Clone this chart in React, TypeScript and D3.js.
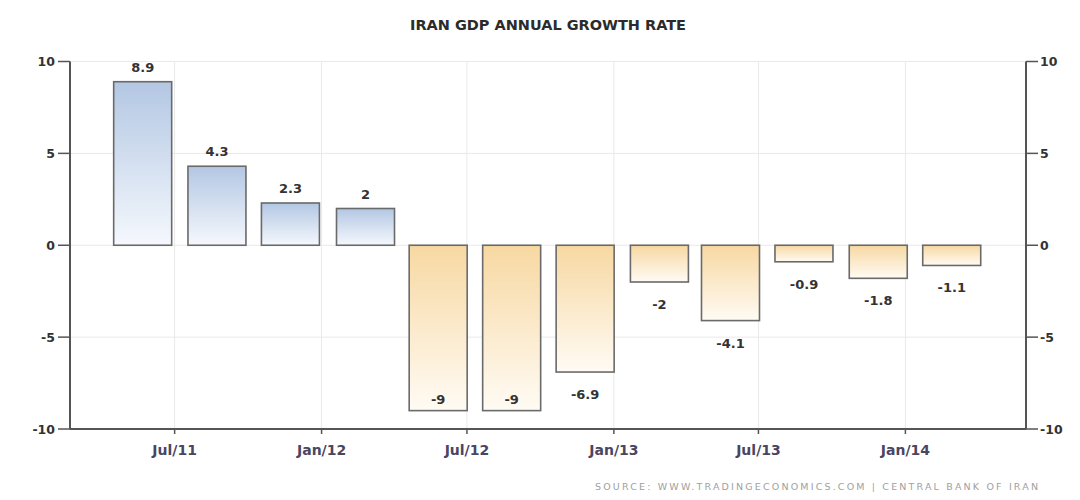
import React from "react";
import * as d3 from "d3";

const quarters: string[] = [
  "2011-05-22", "2011-08-23", "2011-11-23", "2012-02-25",
  "2012-05-26", "2012-08-26", "2012-11-26", "2013-02-27",
  "2013-05-27", "2013-08-27", "2013-11-28", "2014-02-28",
];
const growth: number[] = [8.9, 4.3, 2.3, 2, -9, -9, -6.9, -2, -4.1, -0.9, -1.8, -1.1];
const yTicks: number[] = [-10, -5, 0, 5, 10];
const xTickDates: string[] = ["2011-07-01", "2012-01-01", "2012-07-01", "2013-01-01", "2013-07-01", "2014-01-01"];
const xTickLabels: string[] = ["Jul/11", "Jan/12", "Jul/12", "Jan/13", "Jul/13", "Jan/14"];
const domainDates: string[] = ["2011-02-20", "2014-06-01"];

const W = 1080, H = 500;
const left = 70, right = 1026, top = 61.5, bottom = 429;
const barW = 58;
const font = "'DejaVu Sans', Verdana, sans-serif";

export default function App() {
  const parse = d3.utcParse("%Y-%m-%d");
  const x = d3.scaleUtc().domain(domainDates.map((d) => parse(d)!)).range([left, right]);
  const y = d3.scaleLinear().domain([-10, 10]).range([bottom, top]);
  const y0 = y(0);

  return (
    <svg width={W} height={H} style={{ position: "absolute", left: 0, top: 0, background: "#fff" }}>
      <defs>
        <linearGradient id="gPos" x1="0" y1="0" x2="0" y2="1">
          <stop offset="0%" stopColor="#b3c7e3" />
          <stop offset="100%" stopColor="#f5f8fd" />
        </linearGradient>
        <linearGradient id="gNeg" x1="0" y1="0" x2="0" y2="1">
          <stop offset="0%" stopColor="#f7d8a2" />
          <stop offset="100%" stopColor="#fffbf4" />
        </linearGradient>
      </defs>
      <rect x={0} y={0} width={W} height={H} fill="#fff" />
      <text x={548} y={30} textAnchor="middle" fontFamily={font} fontWeight="bold" fontSize={13.5}
        fill="#2b2b2b" textLength={276} lengthAdjust="spacingAndGlyphs">IRAN GDP ANNUAL GROWTH RATE</text>

      {/* grid */}
      {yTicks.filter((t) => t !== -10).map((t) => (
        <line key={"gy" + t} x1={left} x2={right} y1={y(t)} y2={y(t)} stroke="#e9e9e9" strokeWidth={1} />
      ))}
      {xTickDates.map((d) => (
        <line key={"gx" + d} x1={x(parse(d)!)} x2={x(parse(d)!)} y1={top} y2={bottom} stroke="#e9e9e9" strokeWidth={1} />
      ))}

      {/* bars */}
      {growth.map((v, i) => {
        const cx = x(parse(quarters[i])!);
        const y1 = Math.min(y(v), y0), y2 = Math.max(y(v), y0);
        return (
          <rect key={"b" + i} x={cx - barW / 2} y={y1} width={barW} height={y2 - y1}
            fill={v >= 0 ? "url(#gPos)" : "url(#gNeg)"} stroke="#6a6a6a" strokeWidth={1.6} />
        );
      })}

      {/* value labels */}
      {growth.map((v, i) => {
        const cx = x(parse(quarters[i])!);
        let ly: number;
        if (v >= 0) ly = y(v) - 10;
        else {
          ly = y(v) + 27;
          if (ly > bottom - 5) ly = y(v) - 7;
        }
        return (
          <text key={"l" + i} x={cx} y={ly} textAnchor="middle" fontFamily={font} fontWeight="bold"
            fontSize={13} fill="#333">{String(v)}</text>
        );
      })}

      {/* axes */}
      <line x1={left} x2={left} y1={top} y2={bottom} stroke="#555" strokeWidth={2} />
      <line x1={right} x2={right} y1={top} y2={bottom} stroke="#555" strokeWidth={2} />
      <line x1={left} x2={right} y1={bottom} y2={bottom} stroke="#555" strokeWidth={2} />
      {yTicks.map((t) => (
        <g key={"yt" + t}>
          <line x1={left - 12} x2={left} y1={y(t)} y2={y(t)} stroke="#555" strokeWidth={1.5} />
          <text x={left - 15} y={y(t) + 4.5} textAnchor="end" fontFamily={font} fontWeight="bold"
            fontSize={12.5} fill="#333">{String(t)}</text>
          <line x1={right} x2={right + 12} y1={y(t)} y2={y(t)} stroke="#555" strokeWidth={1.5} />
          <text x={right + 14} y={y(t) + 4.5} textAnchor="start" fontFamily={font} fontWeight="bold"
            fontSize={12.5} fill="#333">{String(t)}</text>
        </g>
      ))}
      {xTickDates.map((d, i) => {
        const tx = x(parse(d)!);
        return (
          <g key={"xt" + d}>
            <line x1={tx} x2={tx} y1={bottom} y2={bottom + 5} stroke="#555" strokeWidth={1.5} />
            <text x={tx} y={bottom + 26} textAnchor="middle" fontFamily={font} fontWeight="bold"
              fontSize={14} fill="#4a4560">{xTickLabels[i]}</text>
          </g>
        );
      })}

      <text x={1038} y={490} textAnchor="end" fontFamily={font} fontSize={9.5} fill="#a0a0a0"
        textLength={443} lengthAdjust="spacing">SOURCE: WWW.TRADINGECONOMICS.COM | CENTRAL BANK OF IRAN</text>
    </svg>
  );
}
